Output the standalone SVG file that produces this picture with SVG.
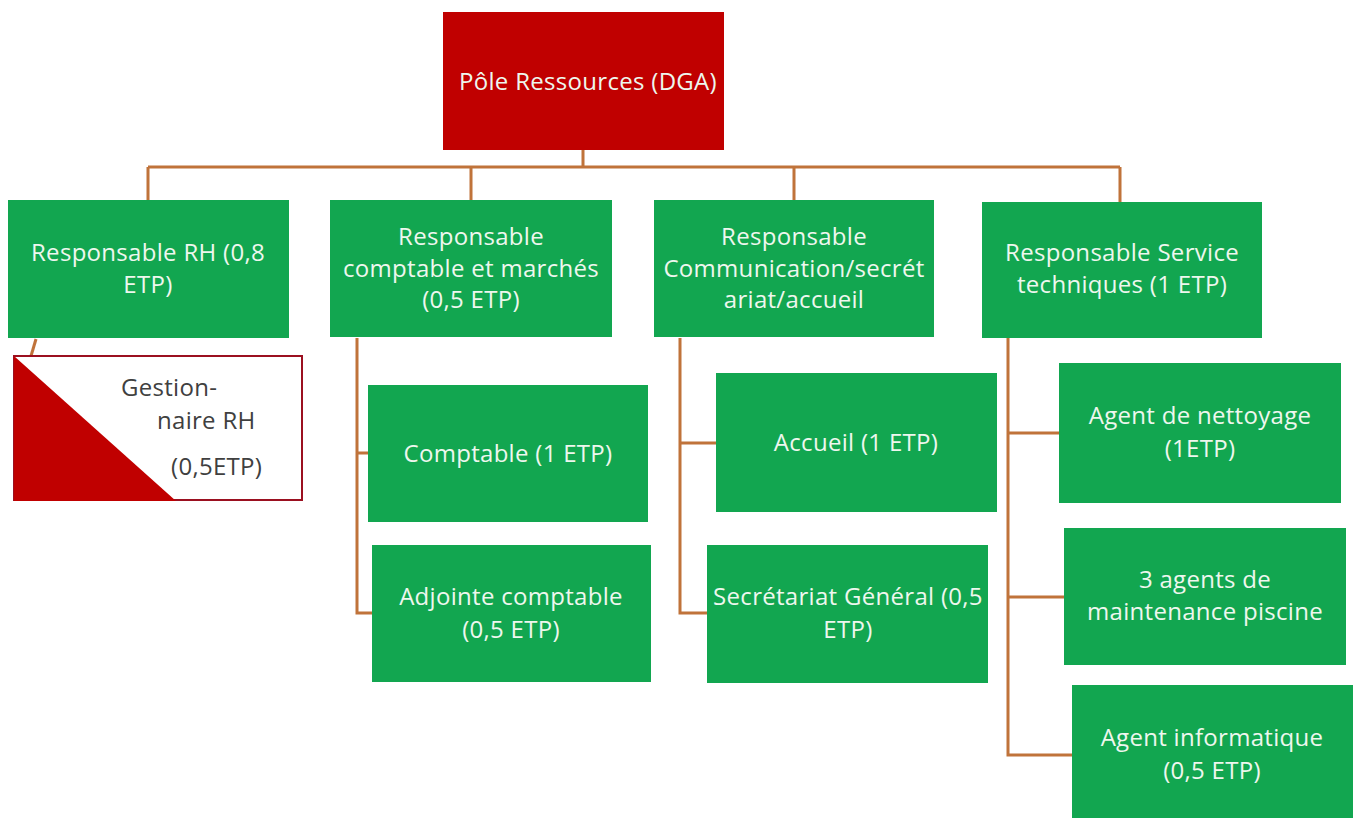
<svg xmlns="http://www.w3.org/2000/svg" width="1359" height="818" viewBox="0 0 1359 818">
<style>
.g{fill:#12a650}
.r{fill:#c00000}
.t{font-family:"Open Sans","Liberation Sans",sans-serif;font-size:24px;letter-spacing:0.3px;fill:#eef7ee;text-anchor:middle}
.d{font-family:"Open Sans","Liberation Sans",sans-serif;font-size:24px;letter-spacing:0.3px;fill:#404040}
.c{stroke:#c0733a;stroke-width:3;fill:none}
</style>
<rect width="1359" height="818" fill="#ffffff"/>
<g id="connectors" class="c">
<path d="M583 150V167M148 167H1120M148 167V200M471 167V200M794 167V200M1120 167V202"/>
<path d="M36 339L31 356"/>
<path d="M357 338V613H372M357 453H368"/>
<path d="M680 338V613H707M680 443H716"/>
<path d="M1008 338V755H1072M1008 433H1059M1008 597H1064"/>
</g>
<g id="n-pole"><rect class="r" x="443" y="12" width="281" height="138"/><text class="t" x="588" y="90">Pôle Ressources (DGA)</text></g>
<g id="n-rh"><rect class="g" x="8" y="200" width="281" height="138"/><text class="t" x="148" y="261">Responsable RH (0,8</text><text class="t" x="148" y="293">ETP)</text></g>
<g id="n-compta"><rect class="g" x="330" y="200" width="282" height="137"/><text class="t" x="471" y="245">Responsable</text><text class="t" x="471" y="277">comptable et marchés</text><text class="t" x="471" y="308">(0,5 ETP)</text></g>
<g id="n-comm"><rect class="g" x="654" y="200" width="280" height="137"/><text class="t" x="794" y="245">Responsable</text><text class="t" x="794" y="277">Communication/secrét</text><text class="t" x="794" y="308">ariat/accueil</text></g>
<g id="n-tech"><rect class="g" x="982" y="202" width="280" height="136"/><text class="t" x="1122" y="261">Responsable Service</text><text class="t" x="1122" y="293">techniques (1 ETP)</text></g>
<g id="n-gest"><rect x="14" y="356" width="288" height="144" fill="#ffffff" stroke="#9b1020" stroke-width="2"/><polygon class="r" points="14,356 176,501 14,501"/><text class="d" x="121" y="396">Gestion-</text><text class="d" x="157" y="429">naire RH</text><text class="d" x="171" y="475">(0,5ETP)</text></g>
<g id="n-comptable"><rect class="g" x="368" y="385" width="280" height="137"/><text class="t" x="508" y="462">Comptable (1 ETP)</text></g>
<g id="n-adjointe"><rect class="g" x="372" y="545" width="279" height="137"/><text class="t" x="511" y="605">Adjointe comptable</text><text class="t" x="511" y="638">(0,5 ETP)</text></g>
<g id="n-accueil"><rect class="g" x="716" y="373" width="281" height="139"/><text class="t" x="856" y="451">Accueil (1 ETP)</text></g>
<g id="n-secretariat"><rect class="g" x="707" y="545" width="281" height="138"/><text class="t" x="848" y="605">Secrétariat Général (0,5</text><text class="t" x="848" y="638">ETP)</text></g>
<g id="n-nettoyage"><rect class="g" x="1059" y="363" width="282" height="140"/><text class="t" x="1200" y="424">Agent de nettoyage</text><text class="t" x="1200" y="457">(1ETP)</text></g>
<g id="n-piscine"><rect class="g" x="1064" y="528" width="282" height="137"/><text class="t" x="1205" y="588">3 agents de</text><text class="t" x="1205" y="620">maintenance piscine</text></g>
<g id="n-info"><rect class="g" x="1072" y="685" width="281" height="133"/><text class="t" x="1212" y="746">Agent informatique</text><text class="t" x="1212" y="779">(0,5 ETP)</text></g>
</svg>
